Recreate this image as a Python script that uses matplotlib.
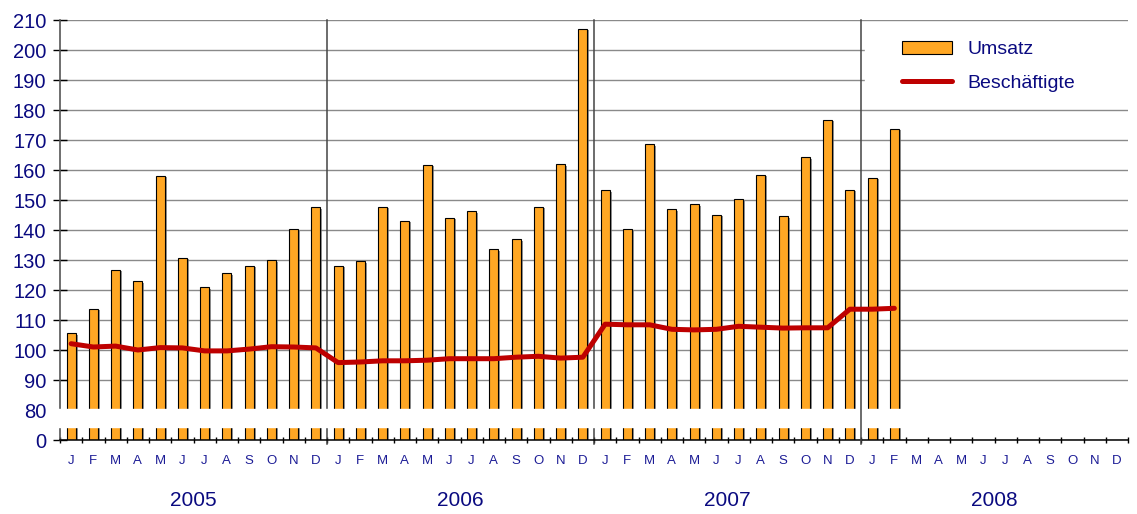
import matplotlib
matplotlib.use("Agg")
import matplotlib.pyplot as plt
import matplotlib.patheffects as pe
from matplotlib.patches import Patch
from matplotlib.lines import Line2D
from matplotlib.transforms import blended_transform_factory

plt.rcParams["font.family"] = ["Liberation Sans", "DejaVu Sans"]

# Monatswerte Jan 2005 - Feb 2008 (Index)
months = ["J", "F", "M", "A", "M", "J", "J", "A", "S", "O", "N", "D"]
years = ["2005", "2006", "2007", "2008"]
umsatz = [105.6, 113.8, 126.8, 122.9, 158.0, 130.8, 120.9, 125.6, 128.1, 129.9, 140.2, 147.6,
          128.1, 129.6, 147.8, 143.1, 161.8, 144.0, 146.2, 133.6, 136.9, 147.8, 161.9, 207.1,
          153.2, 140.2, 168.6, 146.9, 148.6, 145.1, 150.2, 158.4, 144.6, 164.2, 176.8, 153.4,
          157.4, 173.8]
beschaeftigte = [102.1, 101.0, 101.3, 100.0, 100.8, 100.7, 99.7, 99.7, 100.3, 101.1, 101.0, 100.7,
                 95.8, 96.0, 96.4, 96.4, 96.6, 97.1, 97.1, 97.1, 97.6, 97.9, 97.3, 97.6,
                 108.6, 108.4, 108.4, 106.9, 106.7, 106.9, 107.9, 107.6, 107.3, 107.4, 107.4, 113.6,
                 113.6, 113.9]
y_ticks = [0, 80, 90, 100, 110, 120, 130, 140, 150, 160, 170, 180, 190, 200, 210]

# Achsenbruch: 0 wird auf 70 abgebildet
BASE = 70
NAVY = "#0a0a80"
ORANGE = "#FFA724"
RED = "#BE0000"

n_total = len(months) * len(years)
x = list(range(len(umsatz)))

fig = plt.figure(figsize=(11.37, 5.14), dpi=100)
ax = fig.add_axes([60 / 1137, 74 / 514, 1068 / 1137, 420 / 514])

heights = [v - BASE for v in umsatz]
ax.bar(x, heights, bottom=BASE, width=0.4, color=ORANGE, edgecolor="black",
       linewidth=0.8, zorder=2,
       path_effects=[pe.SimplePatchShadow(offset=(1.5, -1), shadow_rgbFace="0.4", alpha=0.7),
                     pe.Normal()])

ax.plot(x, beschaeftigte, color=RED, linewidth=3.6, zorder=4, solid_capstyle="round",
        solid_joinstyle="round")

ax.set_xlim(-0.5, n_total - 0.5)
ax.set_ylim(BASE, 210)
pos = [BASE if t == 0 else t for t in y_ticks]
ax.set_yticks(pos)
ax.set_yticklabels([str(t) for t in y_ticks])
ax.grid(axis="y", color="#8a8a8a", linewidth=1.0)
ax.set_axisbelow(True)

ax.tick_params(axis="y", direction="inout", length=9.5, width=1, pad=5,
               labelsize=14.5, labelcolor=NAVY)
ax.set_xticks(range(n_total))
ax.set_xticklabels(months * len(years))
ax.set_xticks([i - 0.5 for i in range(n_total + 1)], minor=True)
ax.tick_params(axis="x", which="major", length=0, pad=11, labelsize=9.5, labelcolor="#1c1c96")
ax.tick_params(axis="x", which="minor", direction="inout", length=5, width=1)

for s in ["top", "right"]:
    ax.spines[s].set_visible(False)
ax.spines["bottom"].set_linewidth(1.1)
ax.spines["left"].set_color("#555555")
ax.spines["left"].set_linewidth(1.2)

# weisser Streifen fuer den Achsenbruch
band = ax.axhspan(74.3, 80.2, xmin=-0.008, xmax=1, color="white", zorder=3)
band.set_clip_on(False)

# Jahrestrennlinien
for k in range(1, len(years)):
    xs = k * 12 - 0.5
    ax.plot([xs, xs], [BASE - 1.2, 210], color="#444444", linewidth=1.1,
            zorder=3.5 if k == len(years) - 1 else 2.5, clip_on=False)

trans = blended_transform_factory(ax.transData, ax.transAxes)
for k, yr in enumerate(years):
    ax.text(k * 12 + 5.5, -0.143, yr, transform=trans, ha="center", va="center",
            fontsize=15, color=NAVY)

# Legende mit weissem Hintergrund
ax.axvspan(35.7, n_total - 0.5, ymin=(182 - BASE) / 140, ymax=(208.5 - BASE) / 140,
           color="white", zorder=1.5)
handles = [Patch(facecolor=ORANGE, edgecolor="black", linewidth=0.8),
           Line2D([0], [0], color=RED, linewidth=3.6, solid_capstyle="round")]
leg = fig.legend(handles, ["Umsatz", "Beschäftigte"], loc="upper left",
                 bbox_to_anchor=(892 / 1137, 1 - 31 / 514), frameon=False,
                 fontsize=14, handlelength=2.6, handleheight=0.65, handletextpad=0.8,
                 labelspacing=0.85, borderpad=0)
for t in leg.get_texts():
    t.set_color(NAVY)

fig.savefig("out.png", dpi=100)
